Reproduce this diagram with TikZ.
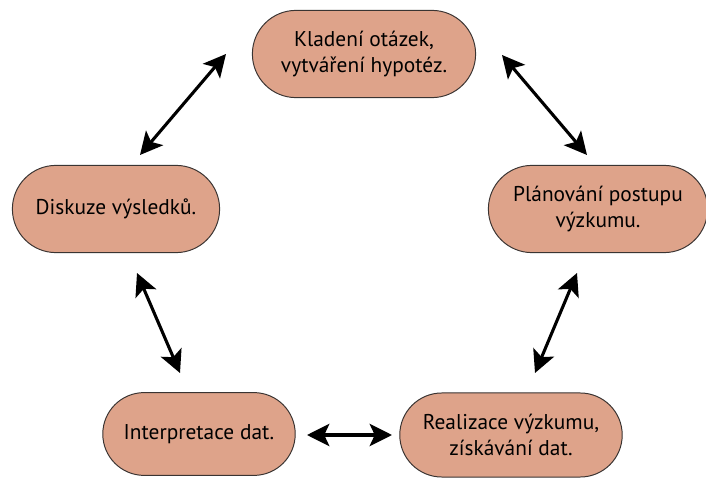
\documentclass[tikz,border=0pt]{standalone}
\usepackage{fontspec}
\setmainfont{PT Sans}
\usetikzlibrary{arrows.meta,shapes.misc}
\definecolor{stagefill}{RGB}{222,163,138}
\definecolor{stageline}{RGB}{58,52,50}

\begin{document}
\begin{tikzpicture}[x=0.025cm,y=-0.025cm,
  stage/.style={rounded rectangle,fill=stagefill,draw=stageline,line width=0.7pt,minimum height=2.18cm,inner sep=2pt,align=center,font=\fontsize{15.2}{19}\selectfont},
  link/.style={{Stealth[length=5.6mm,width=5.6mm,inset=1.3mm]}-{Stealth[length=5.6mm,width=5.6mm,inset=1.3mm]},line width=2.2pt,black}]
  \useasboundingbox (0,0) rectangle (706,479);
  % ---------- the five stages ----------
  \node[stage,minimum width=5.72cm] (ask) at (364,54) {Kladení otázek,\\vytváření hypotéz.};
  \node[stage,minimum width=5.62cm] (plan) at (598,209) {Plánování postupu\\výzkumu.};
  \node[stage,minimum width=5.7cm,minimum height=2.1cm] (real) at (511,435) {Realizace výzkumu,\\získávání dat.};
  \node[stage,minimum width=4.95cm,minimum height=2.07cm] (interp) at (199,434) {Interpretace dat.};
  \node[stage,minimum width=5.32cm] (disc) at (116,209) {Diskuze výsledků.};
  % ---------- arrow ends in the gaps ----------
  \coordinate (askL) at (226,54);   \coordinate (discT) at (140,155);
  \coordinate (askR) at (502,55);   \coordinate (planT) at (587,155);
  \coordinate (planB) at (577,273); \coordinate (realT) at (535,373);
  \coordinate (realL) at (392,435); \coordinate (interpR) at (307,435);
  \coordinate (interpT) at (180,373); \coordinate (discB) at (137,273);
  \draw[link] (discT) -- (askL);
  \draw[link] (askR) -- (planT);
  \draw[link] (planB) -- (realT);
  \draw[link] (realL) -- (interpR);
  \draw[link] (interpT) -- (discB);
\end{tikzpicture}
\end{document}
